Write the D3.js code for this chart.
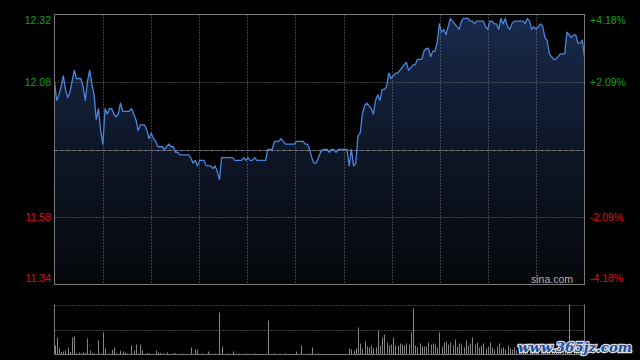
<!DOCTYPE html>
<html>
<head>
<meta charset="utf-8">
<script src="https://cdn.jsdelivr.net/npm/d3@7"></script>
<style>
  html, body { margin: 0; padding: 0; background: #000; }
  svg { display: block; }
</style>
</head>
<body>
<div id="chart"></div>
<script>
// previous close and per-minute data (09:30-11:30, 13:00-15:00)
const preClose = 11.83;
const maxPct = 4.18;

const prices = [
  12.08, 12.01, 12.03, 12.06, 12.10, 12.05, 12.02, 12.04, 12.08, 12.12,
  12.09, 12.09, 12.09, 12.06, 12.01, 12.08, 12.12, 12.07, 12.03, 11.94,
  11.98, 11.90, 11.85, 11.98, 11.96, 11.98, 11.98, 11.96, 11.95, 11.96,
  12.00, 11.97, 11.97, 11.97, 11.97, 11.98, 11.96, 11.94, 11.90, 11.92,
  11.92, 11.92, 11.90, 11.87, 11.89, 11.87, 11.86, 11.84, 11.84, 11.84,
  11.83, 11.84, 11.85, 11.84, 11.84, 11.82, 11.82, 11.81, 11.81, 11.81,
  11.81, 11.81, 11.80, 11.78, 11.79, 11.77, 11.79, 11.79, 11.79, 11.77,
  11.77, 11.77, 11.76, 11.77, 11.75, 11.72, 11.80, 11.80, 11.80, 11.80,
  11.80, 11.80, 11.79, 11.79, 11.79, 11.79, 11.80, 11.79, 11.80, 11.79,
  11.79, 11.80, 11.79, 11.79, 11.79, 11.79, 11.79, 11.83, 11.83, 11.83,
  11.86, 11.86, 11.86, 11.87, 11.86, 11.85, 11.85, 11.85, 11.85, 11.85,
  11.86, 11.86, 11.86, 11.86, 11.85, 11.85, 11.83, 11.80, 11.78, 11.78,
  11.80, 11.82, 11.83, 11.83, 11.83, 11.82, 11.83, 11.83, 11.82, 11.83,
  11.83, 11.83, 11.83, 11.83, 11.77, 11.83, 11.77, 11.78, 11.88, 11.89,
  11.96, 11.99, 12.00, 11.99, 11.98, 11.96, 12.01, 12.03, 12.01, 12.05,
  12.05, 12.06, 12.11, 12.09, 12.10, 12.11, 12.11, 12.12, 12.13, 12.14,
  12.15, 12.12, 12.13, 12.14, 12.14, 12.16, 12.16, 12.16, 12.19, 12.20,
  12.20, 12.17, 12.19, 12.19, 12.22, 12.29, 12.26, 12.27, 12.25, 12.28,
  12.31, 12.30, 12.29, 12.28, 12.27, 12.30, 12.31, 12.31, 12.31, 12.30,
  12.30, 12.29, 12.30, 12.30, 12.30, 12.30, 12.28, 12.27, 12.30, 12.30,
  12.29, 12.29, 12.27, 12.31, 12.29, 12.31, 12.28, 12.27, 12.29, 12.30,
  12.30, 12.30, 12.30, 12.30, 12.29, 12.31, 12.30, 12.27, 12.28, 12.27,
  12.28, 12.29, 12.28, 12.24, 12.23, 12.18, 12.17, 12.16, 12.16, 12.17,
  12.18, 12.18, 12.18, 12.26, 12.25, 12.24, 12.25, 12.25, 12.22, 12.22,
  12.23, 12.17
];

const volumes = [
  18, 34, 12, 5, 6, 8, 14, 5, 34, 36,
  2, 4, 2, 4, 3, 32, 8, 3, 2, 1,
  28, 2, 44, 12, 1, 2, 9, 14, 2, 1,
  8, 6, 4, 2, 1, 18, 8, 20, 2, 20,
  8, 1, 3, 2, 1, 1, 8, 4, 3, 1,
  2, 4, 1, 1, 2, 3, 1, 1, 2, 1,
  1, 1, 14, 1, 10, 10, 1, 2, 1, 1,
  6, 1, 1, 2, 1, 84, 16, 1, 1, 2,
  1, 6, 1, 1, 2, 1, 1, 2, 1, 1,
  1, 2, 1, 1, 1, 1, 1, 68, 1, 1,
  2, 1, 1, 1, 1, 2, 1, 1, 1, 1,
  6, 1, 18, 1, 1, 1, 2, 14, 1, 1,
  2, 1, 1, 1, 1, 1, 1, 1, 1, 1,
  1, 1, 1, 1, 12, 10, 8, 12, 54, 22,
  12, 26, 16, 14, 18, 12, 14, 48, 18, 34,
  40, 24, 18, 20, 34, 18, 18, 22, 20, 18,
  22, 20, 44, 92, 18, 14, 22, 16, 16, 16,
  24, 20, 22, 20, 14, 44, 16, 24, 26, 20,
  24, 18, 30, 16, 22, 20, 14, 28, 18, 22,
  34, 20, 24, 14, 18, 22, 12, 16, 24, 14,
  10, 16, 22, 12, 14, 10, 18, 12, 10, 14,
  8, 12, 10, 8, 12, 6, 10, 8, 12, 6,
  8, 10, 6, 8, 12, 10, 6, 8, 6, 10,
  8, 6, 12, 10, 100, 14, 10, 12, 8, 10,
  12, 14
];

const priceLabels = ["12.32", "12.08", "11.58", "11.34"];
const pctLabels = ["+4.18%", "+2.09%", "-2.09%", "-4.18%"];
const labelPcts = [4.18, 2.09, -2.09, -4.18];

const W = 640, H = 360;
const plot = { left: 54.5, right: 584.5, top: 14.5, bottom: 284.5 };
const volBox = { top: 304.5, bottom: 354.5 };
const font = "'Liberation Sans', Arial, Helvetica, sans-serif";
const green = "#0fa30f";
const red = "#e01010";

const svg = d3.select("#chart")
  .append("svg")
  .attr("width", W)
  .attr("height", H)
  .style("background", "#000");

const x = d3.scaleLinear()
  .domain([0, prices.length - 1])
  .range([plot.left, plot.right]);

const y = d3.scaleLinear()
  .domain([preClose * (1 - maxPct / 100), preClose * (1 + maxPct / 100)])
  .range([plot.bottom, plot.top]);

const yPct = d3.scaleLinear()
  .domain([-maxPct, maxPct])
  .range([plot.bottom, plot.top]);

const yVol = d3.scaleLinear()
  .domain([0, d3.max(volumes)])
  .range([volBox.bottom, volBox.top]);

// gradient under the price line
const defs = svg.append("defs");
const grad = defs.append("linearGradient")
  .attr("id", "areaGrad")
  .attr("gradientUnits", "userSpaceOnUse")
  .attr("x1", 0).attr("x2", 0)
  .attr("y1", plot.top).attr("y2", plot.bottom);
grad.append("stop").attr("offset", "0%").attr("stop-color", "#182a4c");
grad.append("stop").attr("offset", "55%").attr("stop-color", "#0d1424");
grad.append("stop").attr("offset", "100%").attr("stop-color", "#05070a");

svg.append("path")
  .datum(prices)
  .attr("fill", "url(#areaGrad)")
  .attr("d", d3.area()
    .x((d, i) => x(i))
    .y0(plot.bottom)
    .y1((d) => y(d)));

// grid
const gridX = d3.scaleLinear().domain([0, 11]).range([plot.left, plot.right]);
svg.append("g")
  .selectAll("line")
  .data(d3.range(1, 11))
  .join("line")
  .attr("x1", (d) => Math.round(gridX(d)) + 0.5)
  .attr("x2", (d) => Math.round(gridX(d)) + 0.5)
  .attr("y1", plot.top)
  .attr("y2", plot.bottom)
  .attr("stroke", "#7a7a7a")
  .attr("stroke-dasharray", "1,2");

svg.append("g")
  .selectAll("line")
  .data([2.09, -2.09])
  .join("line")
  .attr("x1", plot.left)
  .attr("x2", plot.right)
  .attr("y1", (d) => Math.round(yPct(d)) + 0.5)
  .attr("y2", (d) => Math.round(yPct(d)) + 0.5)
  .attr("stroke", "#7a7a7a")
  .attr("stroke-dasharray", "1,2");

// previous close
svg.append("line")
  .attr("x1", plot.left)
  .attr("x2", plot.right)
  .attr("y1", Math.round(y(preClose)) + 0.5)
  .attr("y2", Math.round(y(preClose)) + 0.5)
  .attr("stroke", "#8a8a8a")
  .attr("stroke-dasharray", "3,1,1,1");

// price line
svg.append("path")
  .datum(prices)
  .attr("fill", "none")
  .attr("stroke", "#4a86dc")
  .attr("stroke-width", 1.3)
  .attr("stroke-linejoin", "round")
  .attr("d", d3.line()
    .x((d, i) => x(i))
    .y((d) => y(d)));

// frame
svg.append("rect")
  .attr("x", plot.left)
  .attr("y", plot.top)
  .attr("width", plot.right - plot.left)
  .attr("height", plot.bottom - plot.top)
  .attr("fill", "none")
  .attr("stroke", "#7a7a7a");

// axis labels
const labelY = (p) => {
  const v = yPct(p);
  if (p === maxPct) return v + 6;
  if (p === -maxPct) return v - 6;
  return v;
};

svg.append("g")
  .selectAll("text")
  .data(priceLabels)
  .join("text")
  .attr("x", 51)
  .attr("y", (d, i) => labelY(labelPcts[i]))
  .attr("dy", "0.35em")
  .attr("text-anchor", "end")
  .attr("fill", (d, i) => labelPcts[i] > 0 ? green : red)
  .style("font-family", font)
  .style("font-size", "10.5px")
  .text((d) => d);

svg.append("g")
  .selectAll("text")
  .data(pctLabels)
  .join("text")
  .attr("x", 590)
  .attr("y", (d, i) => labelY(labelPcts[i]))
  .attr("dy", "0.35em")
  .attr("text-anchor", "start")
  .attr("fill", (d, i) => labelPcts[i] > 0 ? green : red)
  .style("font-family", font)
  .style("font-size", "10.5px")
  .text((d) => d);

svg.append("text")
  .attr("x", 573)
  .attr("y", 279)
  .attr("dy", "0.35em")
  .attr("text-anchor", "end")
  .attr("fill", "#b4b4b4")
  .style("font-family", font)
  .style("font-size", "10.5px")
  .text("sina.com");

// volume panel
svg.append("g")
  .selectAll("line")
  .data([volBox.top, (volBox.top + volBox.bottom) / 2])
  .join("line")
  .attr("x1", plot.left)
  .attr("x2", plot.right)
  .attr("y1", (d) => Math.round(d) + 0.5)
  .attr("y2", (d) => Math.round(d) + 0.5)
  .attr("stroke", "#7a7a7a")
  .attr("stroke-dasharray", "1,2");

svg.append("g")
  .selectAll("line")
  .data(volumes)
  .join("line")
  .attr("x1", (d, i) => Math.round(x(i)) + 0.5)
  .attr("x2", (d, i) => Math.round(x(i)) + 0.5)
  .attr("y1", volBox.bottom)
  .attr("y2", (d) => yVol(d))
  .attr("stroke", "#858585");

svg.append("path")
  .attr("d", `M${plot.left},${volBox.top}V${volBox.bottom}H${plot.right}V${volBox.top}`)
  .attr("fill", "none")
  .attr("stroke", "#7a7a7a");

// watermark
svg.append("text")
  .attr("x", 518)
  .attr("y", 352)
  .attr("textLength", 114)
  .attr("lengthAdjust", "spacingAndGlyphs")
  .attr("fill", "#1d4f9e")
  .attr("stroke", "#d8dce4")
  .attr("stroke-width", 2.5)
  .attr("paint-order", "stroke")
  .style("font-family", "'DejaVu Serif', serif")
  .style("font-weight", "bold")
  .style("font-style", "italic")
  .style("font-size", "13.5px")
  .text("www.365jz.com");
</script>
</body>
</html>
